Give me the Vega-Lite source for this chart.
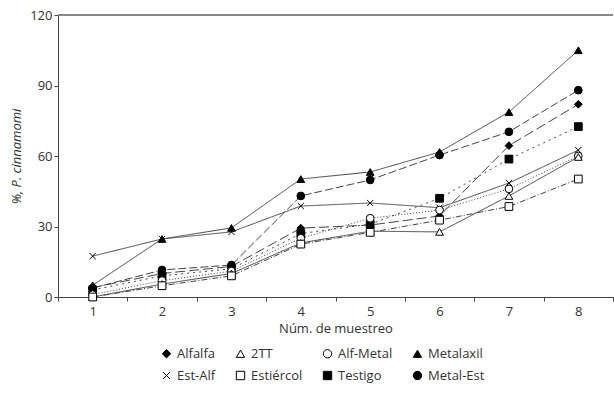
{
  "$schema": "https://vega.github.io/schema/vega-lite/v6.json",
  "width": 555,
  "height": 282,
  "autosize": "none",
  "padding": {"left": 58, "top": 15, "right": 1, "bottom": 100},
  "background": "white",
  "config": {
    "view": {"stroke": null},
    "font": "Open Sans",
    "axis": {"labelFont": "Open Sans", "titleFont": "Open Sans", "labelColor": "#333", "titleColor": "#333", "labelFontSize": 13, "titleFontSize": 13, "titleFontWeight": "normal", "domainColor": "#444", "tickColor": "#444", "grid": false},
    "legend": {"labelFontSize": 13, "labelColor": "#333", "labelFont": "Open Sans", "symbolSize": 70, "columnPadding": 18, "rowPadding": 8, "symbolStrokeWidth": 1}
  },
  "data": {"values": [
    {"s": "Metalaxil", "m": 1, "v": 5}, {"s": "Metalaxil", "m": 2, "v": 24.7}, {"s": "Metalaxil", "m": 3, "v": 29.4}, {"s": "Metalaxil", "m": 4, "v": 50.2}, {"s": "Metalaxil", "m": 5, "v": 53.2}, {"s": "Metalaxil", "m": 6, "v": 61.7}, {"s": "Metalaxil", "m": 7, "v": 78.7}, {"s": "Metalaxil", "m": 8, "v": 105},
    {"s": "Metal-Est", "m": 1, "v": 3.8}, {"s": "Metal-Est", "m": 2, "v": 11.5}, {"s": "Metal-Est", "m": 3, "v": 13.6}, {"s": "Metal-Est", "m": 4, "v": 43}, {"s": "Metal-Est", "m": 5, "v": 49.8}, {"s": "Metal-Est", "m": 6, "v": 60.4}, {"s": "Metal-Est", "m": 7, "v": 70.3}, {"s": "Metal-Est", "m": 8, "v": 88},
    {"s": "Est-Alf", "m": 1, "v": 17.4}, {"s": "Est-Alf", "m": 2, "v": 24.7}, {"s": "Est-Alf", "m": 3, "v": 27.7}, {"s": "Est-Alf", "m": 4, "v": 38.7}, {"s": "Est-Alf", "m": 5, "v": 40}, {"s": "Est-Alf", "m": 6, "v": 38}, {"s": "Est-Alf", "m": 7, "v": 48.5}, {"s": "Est-Alf", "m": 8, "v": 62.5},
    {"s": "Alfalfa", "m": 1, "v": 4}, {"s": "Alfalfa", "m": 2, "v": 10}, {"s": "Alfalfa", "m": 3, "v": 13}, {"s": "Alfalfa", "m": 4, "v": 29.3}, {"s": "Alfalfa", "m": 5, "v": 30.6}, {"s": "Alfalfa", "m": 6, "v": 34.5}, {"s": "Alfalfa", "m": 7, "v": 64.4}, {"s": "Alfalfa", "m": 8, "v": 82},
    {"s": "Testigo", "m": 1, "v": 3}, {"s": "Testigo", "m": 2, "v": 9}, {"s": "Testigo", "m": 3, "v": 12}, {"s": "Testigo", "m": 4, "v": 27}, {"s": "Testigo", "m": 5, "v": 31}, {"s": "Testigo", "m": 6, "v": 42}, {"s": "Testigo", "m": 7, "v": 58.7}, {"s": "Testigo", "m": 8, "v": 72.5},
    {"s": "Alf-Metal", "m": 1, "v": 1}, {"s": "Alf-Metal", "m": 2, "v": 7}, {"s": "Alf-Metal", "m": 3, "v": 11}, {"s": "Alf-Metal", "m": 4, "v": 25}, {"s": "Alf-Metal", "m": 5, "v": 33.5}, {"s": "Alf-Metal", "m": 6, "v": 37}, {"s": "Alf-Metal", "m": 7, "v": 46}, {"s": "Alf-Metal", "m": 8, "v": 60},
    {"s": "2TT", "m": 1, "v": 0}, {"s": "2TT", "m": 2, "v": 5.5}, {"s": "2TT", "m": 3, "v": 10}, {"s": "2TT", "m": 4, "v": 23}, {"s": "2TT", "m": 5, "v": 28}, {"s": "2TT", "m": 6, "v": 27.7}, {"s": "2TT", "m": 7, "v": 43}, {"s": "2TT", "m": 8, "v": 59.6},
    {"s": "Estiércol", "m": 1, "v": 0}, {"s": "Estiércol", "m": 2, "v": 4.8}, {"s": "Estiércol", "m": 3, "v": 9}, {"s": "Estiércol", "m": 4, "v": 22.5}, {"s": "Estiércol", "m": 5, "v": 27.5}, {"s": "Estiércol", "m": 6, "v": 32.7}, {"s": "Estiércol", "m": 7, "v": 38.5}, {"s": "Estiércol", "m": 8, "v": 50.2}
  ]},
  "layer": [
    {
      "mark": {"type": "rule", "color": "#888", "strokeWidth": 1.5},
      "encoding": {"y": {"datum": 120, "type": "quantitative", "scale": {"domain": [0, 120]}}}
    },
    {
      "mark": {"type": "line", "strokeWidth": 1, "color": "#444"},
      "encoding": {
        "x": {"field": "m", "type": "ordinal", "scale": {"paddingInner": 0, "paddingOuter": 0}, "axis": {"title": "Núm. de muestreo", "labelAngle": 0, "tickBand": "extent", "tickSize": 4, "titlePadding": 4, "labelPadding": 4}},
        "y": {"field": "v", "type": "quantitative", "scale": {"domain": [0, 120]}, "axis": {"title": "%, P. cinnamomi", "titleFontStyle": "italic", "values": [0, 30, 60, 90, 120], "tickSize": 4, "titlePadding": 6}},
        "detail": {"field": "s"},
        "strokeDash": {"field": "s", "legend": null, "scale": {
          "domain": ["Metalaxil", "Metal-Est", "Est-Alf", "Alfalfa", "Testigo", "Alf-Metal", "2TT", "Estiércol"],
          "range": [[1, 0], [8, 3], [1, 0], [10, 4], [2, 4], [1, 2], [1, 0], [6, 2, 1, 2]]}}
      }
    },
    {
      "mark": {"type": "point", "filled": true, "strokeWidth": 1, "opacity": 1},
      "encoding": {
        "x": {"field": "m", "type": "ordinal"},
        "y": {"field": "v", "type": "quantitative"},
        "shape": {"field": "s", "scale": {
          "domain": ["Alfalfa", "2TT", "Alf-Metal", "Metalaxil", "Est-Alf", "Estiércol", "Testigo", "Metal-Est"],
          "range": ["diamond", "triangle-up", "circle", "triangle-up", "M-0.8,-0.8L0.8,0.8M-0.8,0.8L0.8,-0.8", "square", "square", "circle"]},
          "legend": {"title": null, "orient": "none", "legendX": 102, "legendY": 332, "columns": 4, "direction": "horizontal"}},
        "fill": {"field": "s", "scale": {
          "domain": ["Alfalfa", "2TT", "Alf-Metal", "Metalaxil", "Est-Alf", "Estiércol", "Testigo", "Metal-Est"],
          "range": ["black", "white", "white", "black", "white", "white", "black", "black"]},
          "legend": {"title": null, "orient": "none", "legendX": 102, "legendY": 332, "columns": 4, "direction": "horizontal"}},
        "stroke": {"field": "s", "scale": {
          "domain": ["Alfalfa", "2TT", "Alf-Metal", "Metalaxil", "Est-Alf", "Estiércol", "Testigo", "Metal-Est"],
          "range": ["black", "black", "black", "black", "black", "black", "black", "black"]},
          "legend": {"title": null, "orient": "none", "legendX": 102, "legendY": 332, "columns": 4, "direction": "horizontal"}},
        "size": {"value": 60}
      }
    }
  ]
}
